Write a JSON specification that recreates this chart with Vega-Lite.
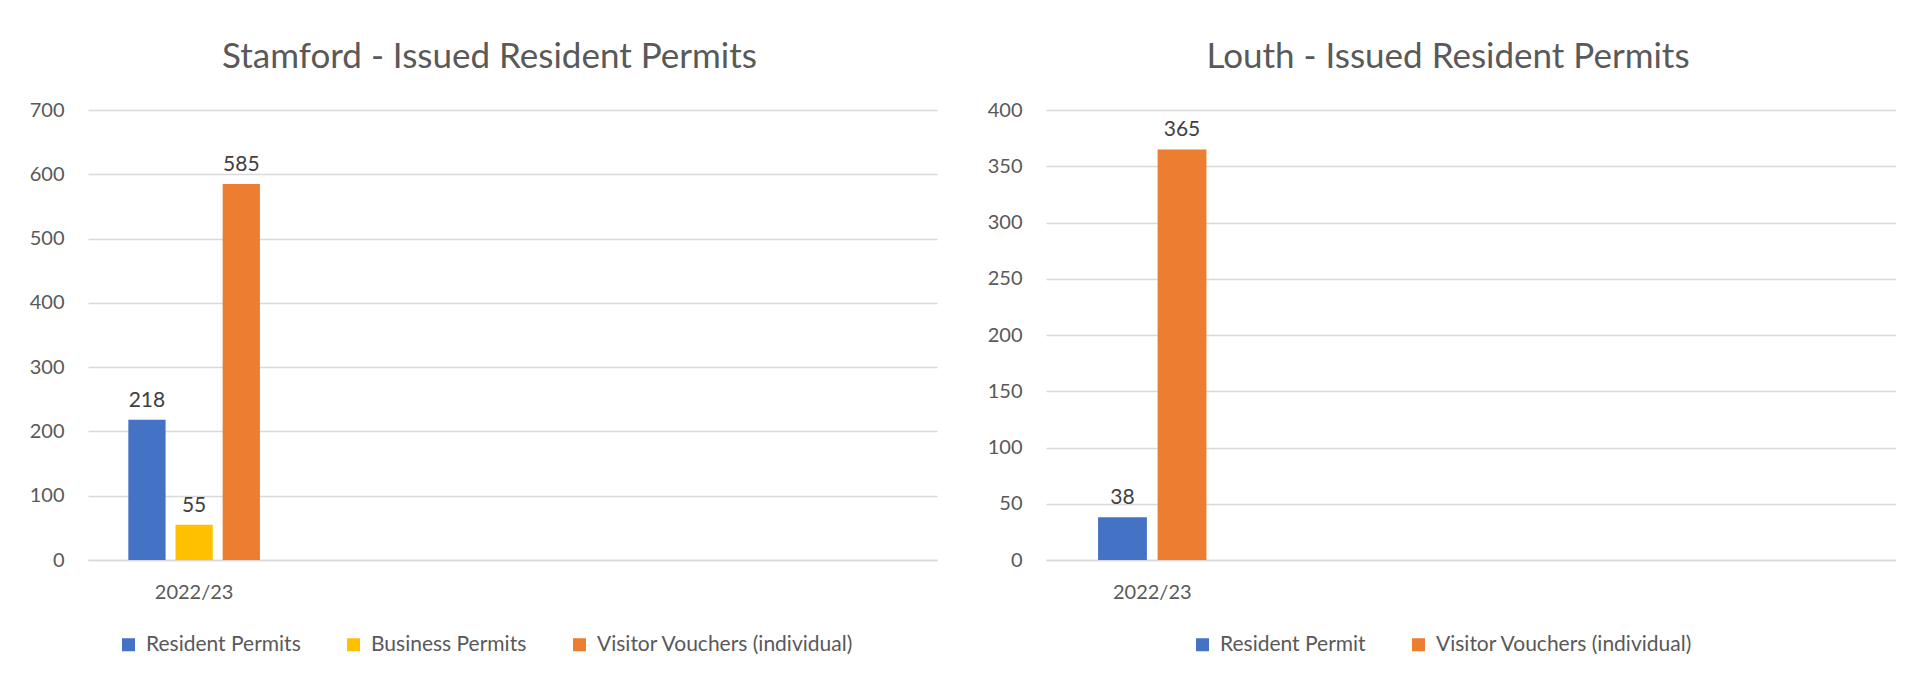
{
  "$schema": "https://vega.github.io/schema/vega-lite/v6.json",
  "background": "white",
  "padding": {"left": 29, "top": 40, "right": 0, "bottom": 0},
  "spacing": 50,
  "config": {
    "font": "Lato",
    "view": {"stroke": null},
    "title": {"fontSize": 35, "fontWeight": "normal", "color": "#595959", "font": "Lato", "offset": 25, "anchor": "middle", "dx": -23},
    "axis": {"labelFontSize": 20, "labelColor": "#595959", "labelFont": "Lato", "ticks": false, "gridColor": "#d9d9d9", "gridWidth": 1.5, "domainColor": "#d9d9d9", "domainWidth": 1.5, "title": null},
    "axisY": {"domain": false, "labelPadding": 24},
    "axisX": {"labelPadding": 22, "labelAngle": 0, "grid": false},
    "legend": {"orient": "none", "direction": "horizontal", "title": null, "symbolType": "square", "symbolSize": 169, "symbolStrokeWidth": 0, "labelFontSize": 21, "labelColor": "#595959", "labelFont": "Lato", "labelOffset": 7, "columnPadding": 42, "labelLimit": 500}
  },
  "hconcat": [
    {
      "title": {"text": "Stamford - Issued Resident Permits"},
      "width": 849,
      "height": 450,
      "data": {"values": [
        {"year": "2022/23", "type": "Resident Permits", "count": 218},
        {"year": "2022/23", "type": "Business Permits", "count": 55},
        {"year": "2022/23", "type": "Visitor Vouchers (individual)", "count": 585}
      ]},
      "encoding": {
        "x": {"field": "year", "type": "nominal", "scale": {"domain": ["2022/23", "_2", "_3", "_4"], "paddingInner": 0.38, "paddingOuter": 0.19}, "axis": {"labelExpr": "datum.value == '2022/23' ? datum.value : ''"}},
        "xOffset": {"field": "type", "type": "nominal", "scale": {"domain": ["Resident Permits", "Business Permits", "Visitor Vouchers (individual)"], "paddingInner": 0.21, "paddingOuter": 0}},
        "y": {"field": "count", "type": "quantitative", "scale": {"domain": [0, 700]}, "axis": {"values": [0, 100, 200, 300, 400, 500, 600, 700]}}
      },
      "layer": [
        {"mark": {"type": "bar"}, "encoding": {"color": {"field": "type", "type": "nominal", "scale": {"domain": ["Resident Permits", "Business Permits", "Visitor Vouchers (individual)"], "range": ["#4472C4", "#FFC000", "#ED7D31"]}, "legend": {"legendX": 30, "legendY": 524}}}},
        {"mark": {"type": "text", "baseline": "bottom", "dy": -9, "fontSize": 21, "color": "#404040", "font": "Lato"}, "encoding": {"text": {"field": "count", "type": "quantitative"}}}
      ]
    },
    {
      "title": {"text": "Louth - Issued Resident Permits"},
      "width": 850,
      "height": 450,
      "data": {"values": [
        {"year": "2022/23", "type": "Resident Permit", "count": 38},
        {"year": "2022/23", "type": "Visitor Vouchers (individual)", "count": 365}
      ]},
      "encoding": {
        "x": {"field": "year", "type": "nominal", "scale": {"domain": ["2022/23", "_2", "_3", "_4"], "paddingInner": 0.49, "paddingOuter": 0.245}, "axis": {"labelExpr": "datum.value == '2022/23' ? datum.value : ''"}},
        "xOffset": {"field": "type", "type": "nominal", "scale": {"domain": ["Resident Permit", "Visitor Vouchers (individual)"], "paddingInner": 0.18, "paddingOuter": 0}},
        "y": {"field": "count", "type": "quantitative", "scale": {"domain": [0, 400]}, "axis": {"values": [0, 50, 100, 150, 200, 250, 300, 350, 400]}}
      },
      "layer": [
        {"mark": {"type": "bar"}, "encoding": {"color": {"field": "type", "type": "nominal", "scale": {"domain": ["Resident Permit", "Visitor Vouchers (individual)"], "range": ["#4472C4", "#ED7D31"]}, "legend": {"legendX": 146, "legendY": 524}}}},
        {"mark": {"type": "text", "baseline": "bottom", "dy": -9, "fontSize": 21, "color": "#404040", "font": "Lato"}, "encoding": {"text": {"field": "count", "type": "quantitative"}}}
      ]
    }
  ],
  "resolve": {"scale": {"color": "independent", "x": "independent", "y": "independent", "xOffset": "independent"}}
}
